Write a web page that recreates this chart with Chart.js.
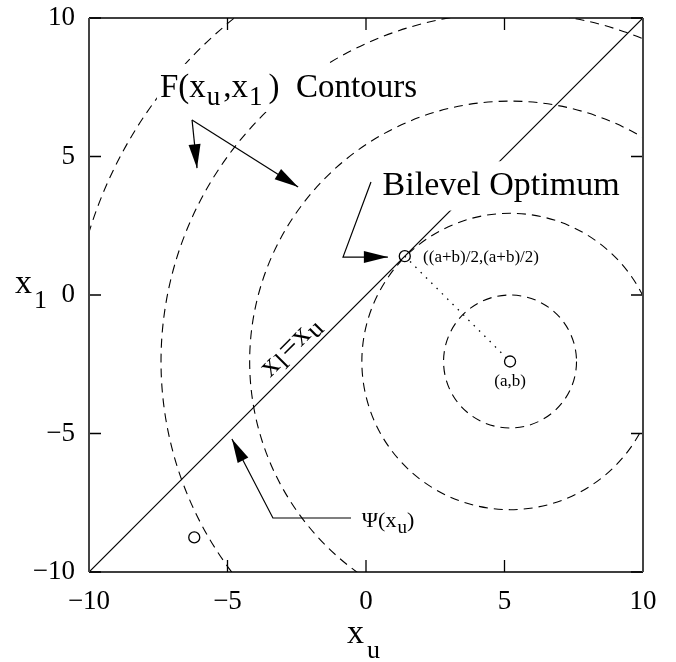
<!DOCTYPE html>
<html>
<head>
<meta charset="utf-8">
<script src="https://cdn.jsdelivr.net/npm/chart.js@4.4.0/dist/chart.umd.min.js"></script>
<style>
  html, body { margin: 0; padding: 0; background: #fff; }
  canvas { display: block; }
</style>
</head>
<body>
<canvas id="chart" width="676" height="662"></canvas>
<script>
// --- Data ---
const tickValues = [-10, -5, 0, 5, 10];
const diagonalX = [-10, 10];
const diagonalY = [-10, 10];
const pointA = 5.2, pointB = -2.4;            // (a,b)
const optimumX = 1.4, optimumY = 1.4;         // ((a+b)/2,(a+b)/2)
const otherX = -6.2, otherY = -8.75;          // lone marker near bottom left
const contourRadii = [2.4, 5.35, 9.4, 12.6, 15.9];
// the outermost contour is only drawn as its upper-left arc (angles in units of pi)
const contourSpan = [[0, 2], [0, 2], [0, 2], [0, 2], [1.05, 1.75]];

// --- Annotation geometry (data units) ---
const arrowPaths = [
    [[-6.28, 6.32], [-6.1, 4.58]],
    [[-6.28, 6.32], [-2.45, 3.9]],
    [[0.18, 4.08], [-0.83, 1.37], [0.79, 1.37]],
    [[-0.54, -8.05], [-3.36, -8.05], [-4.84, -5.2]]
];

const SERIF = '"Liberation Serif", "DejaVu Serif", serif';

function runsWidth(ctx, runs, size, subSize) {
    let w = 0;
    runs.forEach(r => {
        ctx.font = (r.sub ? subSize : size) + 'px ' + SERIF;
        w += ctx.measureText(r.t).width + (r.gap || 0);
    });
    return w;
}

// draw a sequence of text runs, some lowered as subscripts
function drawRuns(ctx, x, y, runs, size, subSize, drop) {
    runs.forEach(r => {
        ctx.font = (r.sub ? subSize : size) + 'px ' + SERIF;
        ctx.fillText(r.t, x, y + (r.sub ? drop : 0));
        x += ctx.measureText(r.t).width + (r.gap || 0);
    });
}

// same, but on a white box that hides the lines behind it
function drawBoxedRuns(ctx, x, y, runs, size, subSize, drop) {
    const w = runsWidth(ctx, runs, size, subSize);
    ctx.save();
    ctx.fillStyle = '#fff';
    ctx.fillRect(x - 3, y - size, w + 6, size * 1.45);
    ctx.restore();
    drawRuns(ctx, x, y, runs, size, subSize, drop);
}

function drawArrow(ctx, pts) {
    ctx.beginPath();
    ctx.moveTo(pts[0][0], pts[0][1]);
    for (let i = 1; i < pts.length; i++) ctx.lineTo(pts[i][0], pts[i][1]);
    ctx.stroke();
    const [px, py] = pts[pts.length - 2];
    const [tx, ty] = pts[pts.length - 1];
    const ang = Math.atan2(ty - py, tx - px);
    const len = 24, half = 6;
    ctx.beginPath();
    ctx.moveTo(tx, ty);
    ctx.lineTo(tx - len * Math.cos(ang) + half * Math.sin(ang), ty - len * Math.sin(ang) - half * Math.cos(ang));
    ctx.lineTo(tx - len * Math.cos(ang) - half * Math.sin(ang), ty - len * Math.sin(ang) + half * Math.cos(ang));
    ctx.closePath();
    ctx.fill();
}

// --- Plugins ---
const contourPlugin = {
    id: 'contours',
    beforeDatasetsDraw(chart) {
        const { ctx, chartArea: a, scales: { x, y } } = chart;
        const cx = x.getPixelForValue(pointA), cy = y.getPixelForValue(pointB);
        ctx.save();
        ctx.beginPath();
        ctx.rect(a.left, a.top, a.right - a.left, a.bottom - a.top);
        ctx.clip();
        ctx.strokeStyle = '#000';
        ctx.lineWidth = 1.1;
        ctx.setLineDash([9, 6]);
        contourRadii.forEach((r, i) => {
            const rp = x.getPixelForValue(pointA + r) - cx;
            ctx.beginPath();
            ctx.arc(cx, cy, rp, contourSpan[i][0] * Math.PI, contourSpan[i][1] * Math.PI);
            ctx.stroke();
        });
        ctx.restore();
    }
};

const framePlugin = {
    id: 'frame',
    afterDraw(chart) {
        const { ctx, chartArea: a, scales: { x, y } } = chart;
        ctx.save();
        ctx.fillStyle = '#000';
        ctx.textAlign = 'left';
        ctx.textBaseline = 'alphabetic';

        // boxed labels first, so their white boxes mask the lines
        drawBoxedRuns(ctx, x.getPixelForValue(-7.44), y.getPixelForValue(7.15), [
            { t: 'F(x', gap: 1 }, { t: 'u', sub: true, gap: 3 }, { t: ',x', gap: 1 }, { t: '1', sub: true, gap: 6 }, { t: ')  ' }, { t: 'Contours' }
        ], 33, 27, 8);
        drawBoxedRuns(ctx, x.getPixelForValue(0.6), y.getPixelForValue(3.6), [{ t: 'Bilevel Optimum' }], 34, 34, 0);

        // tick marks pointing inward on all four sides
        ctx.strokeStyle = '#000';
        ctx.lineWidth = 1.3;
        const tl = 12;
        tickValues.forEach(v => {
            const px = x.getPixelForValue(v), py = y.getPixelForValue(v);
            ctx.beginPath();
            ctx.moveTo(px, a.bottom); ctx.lineTo(px, a.bottom - tl);
            ctx.moveTo(px, a.top); ctx.lineTo(px, a.top + tl);
            ctx.moveTo(a.left, py); ctx.lineTo(a.left + tl, py);
            ctx.moveTo(a.right, py); ctx.lineTo(a.right - tl, py);
            ctx.stroke();
        });
        // box
        ctx.lineWidth = 1.6;
        ctx.beginPath();
        ctx.moveTo(a.left, a.top); ctx.lineTo(a.right, a.top);
        ctx.moveTo(a.left, a.bottom); ctx.lineTo(a.right, a.bottom);
        ctx.stroke();
        ctx.strokeStyle = '#444';
        ctx.lineWidth = 2;
        ctx.beginPath();
        ctx.moveTo(a.left, a.top); ctx.lineTo(a.left, a.bottom);
        ctx.moveTo(a.right, a.top); ctx.lineTo(a.right, a.bottom);
        ctx.stroke();

        // axis titles
        drawRuns(ctx, 347, 643, [{ t: 'x', gap: 3 }, { t: 'u', sub: true }], 34, 26, 15);
        drawRuns(ctx, 15, 293, [{ t: 'x', gap: 2 }, { t: '1', sub: true }], 34, 26, 15);

        // arrows
        ctx.strokeStyle = '#000';
        ctx.lineWidth = 1.2;
        arrowPaths.forEach(path => {
            drawArrow(ctx, path.map(p => [x.getPixelForValue(p[0]), y.getPixelForValue(p[1])]));
        });

        drawRuns(ctx, x.getPixelForValue(-0.15), y.getPixelForValue(-8.38), [
            { t: 'Ψ(x', gap: 1 }, { t: 'u', sub: true }, { t: ')' }
        ], 22, 19, 6);

        ctx.textBaseline = 'middle';
        drawRuns(ctx, x.getPixelForValue(2.06), y.getPixelForValue(1.37), [{ t: '((a+b)/2,(a+b)/2)' }], 17, 17, 0);
        ctx.textAlign = 'center';
        ctx.fillText('(a,b)', x.getPixelForValue(pointA), y.getPixelForValue(pointB) + 20);

        // rotated label along the diagonal
        ctx.save();
        ctx.translate(x.getPixelForValue(-2.1), y.getPixelForValue(-2.1));
        ctx.rotate(-Math.PI / 4);
        ctx.textAlign = 'left';
        ctx.textBaseline = 'alphabetic';
        drawRuns(ctx, -44, -9, [{ t: 'x', gap: 1 }, { t: 'l', sub: true, gap: 2 }, { t: '=x', gap: 1 }, { t: 'u', sub: true }], 31, 26, 5);
        ctx.restore();

        ctx.restore();
    }
};

const tickFont = { family: SERIF, size: 27 };
const minusLabel = v => String(v).replace('-', '\u2212');

new Chart(document.getElementById('chart'), {
    type: 'scatter',
    data: {
        datasets: [
            {
                type: 'line',
                data: diagonalX.map((v, i) => ({ x: v, y: diagonalY[i] })),
                borderColor: '#000',
                borderWidth: 1.2,
                pointRadius: 0
            },
            {
                type: 'line',
                data: [{ x: optimumX, y: optimumY }, { x: pointA, y: pointB }],
                borderColor: '#000',
                borderWidth: 1.3,
                borderDash: [1.5, 6],
                pointRadius: 0
            },
            {
                data: [{ x: optimumX, y: optimumY }, { x: pointA, y: pointB }, { x: otherX, y: otherY }],
                pointRadius: 5.5,
                pointBackgroundColor: '#fff',
                pointBorderColor: '#000',
                pointBorderWidth: 1.3
            }
        ]
    },
    options: {
        responsive: false,
        animation: false,
        layout: { padding: { top: 18, right: 33, left: 0, bottom: 0 } },
        plugins: { legend: { display: false }, tooltip: { enabled: false } },
        scales: {
            x: {
                type: 'linear', min: -10, max: 10,
                grid: { display: false, drawTicks: false },
                border: { display: false },
                ticks: { stepSize: 5, font: tickFont, color: '#000', padding: 14, maxRotation: 0, callback: minusLabel },
                afterFit(s) { s.height = 90; s.paddingLeft = 0; s.paddingRight = 0; }
            },
            y: {
                type: 'linear', min: -10, max: 10,
                grid: { display: false, drawTicks: false },
                border: { display: false },
                ticks: { stepSize: 5, font: tickFont, color: '#000', padding: 14, callback: minusLabel },
                afterFit(s) { s.width = 89; s.paddingTop = 0; s.paddingBottom = 0; }
            }
        }
    },
    plugins: [contourPlugin, framePlugin]
});
</script>
</body>
</html>
